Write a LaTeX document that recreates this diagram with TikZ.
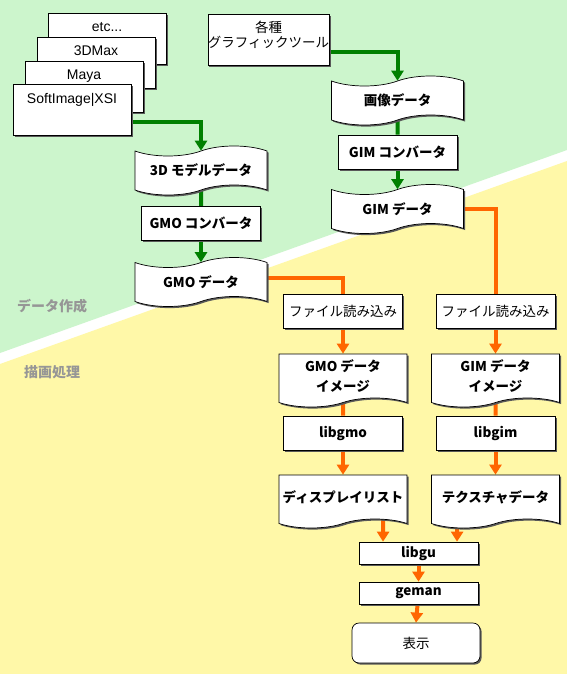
\documentclass[tikz,border=0pt]{standalone}
\usepackage{fontspec}
\setmainfont{Noto Sans CJK JP}
\newfontfamily\arialfont{Liberation Sans}
\usepackage{tikz}
\usetikzlibrary{positioning,arrows.meta,shapes.symbols,shapes.misc,shadows}
\definecolor{greenbg}{RGB}{204,245,204}
\definecolor{yellowbg}{RGB}{255,248,168}
\definecolor{flowgreen}{RGB}{0,128,0}
\definecolor{floworange}{RGB}{255,102,0}
\definecolor{areagray}{RGB}{150,150,150}
\pgfdeclarelayer{bg}
\pgfdeclarelayer{lines}
\pgfsetlayers{bg,lines,main}

\begin{document}
\begin{tikzpicture}[x=1pt, y=-1pt, on grid,
  shade/.style={drop shadow={shadow xshift=1.6pt, shadow yshift=-1.6pt, fill=black!65, opacity=1}},
  app/.style={rectangle, draw=black, fill=white, line width=0.7pt, shade,
              font=\arialfont\fontsize{14}{16}\selectfont, minimum width=118pt,
              inner ysep=0pt, text height=19pt, text depth=32pt},
  proc/.style={rectangle, draw=black, fill=white, line width=0.7pt, shade,
               font=\fontsize{13.5}{15}\selectfont\bfseries, minimum width=119pt,
               minimum height=34pt, inner sep=0pt, align=center},
  tapebox/.style={tape, tape bend top=in and out, tape bend bottom=in and out,
                  tape bend height=10pt, draw=black, fill=white, line width=0.7pt, shade,
                  font=\fontsize{13.5}{15}\selectfont\bfseries, minimum width=132pt,
                  minimum height=49pt, inner sep=0pt, align=center},
  docbox/.style={tape, tape bend top=none, tape bend bottom=in and out,
                 tape bend height=9pt, draw=black, fill=white, line width=0.7pt, shade,
                 font=\fontsize{13.5}{15}\selectfont\bfseries, minimum width=128pt,
                 minimum height=53pt, inner sep=0pt, align=center},
  endbox/.style={rectangle, rounded corners=7pt, draw=black, fill=white, line width=0.7pt,
                 shade, font=\fontsize{13.5}{15}\selectfont, minimum width=128pt,
                 minimum height=40pt},
  area/.style={font=\fontsize{14}{16}\selectfont\bfseries, text=areagray},
  garr/.style={-{Triangle[length=10pt,width=12pt]}, line width=4pt, flowgreen},
  gline/.style={line width=4pt, flowgreen},
  oarr/.style={-{Triangle[length=10pt,width=12pt]}, line width=4pt, floworange},
  oline/.style={line width=4pt, floworange}
]
\useasboundingbox (0,0) rectangle (567,674);

\begin{pgfonlayer}{bg}
\fill[white] (0,0) rectangle (567,674);
\fill[greenbg] (0,0) -- (567,0) -- (567,150) -- (0,353) -- cycle;
\fill[yellowbg] (0,364) -- (567,161) -- (567,674) -- (0,674) -- cycle;
\end{pgfonlayer}

\node[area] (mkdata) at (52,306) {データ作成};
\node[area] (render) at (52,372) {描画処理};

\node[app] (etc)  at (107,38.5) {etc...};
\node[app] (max)  at (96,62.5)  {3DMax};
\node[app] (maya) at (84,86.5)  {Maya};
\node[app] (soft) at (72,110)   {SoftImage|XSI};

\node[proc, font=\fontsize{13.5}{15}\selectfont, minimum height=51pt] (tool) at (268.5,39.5)
  {各種\\グラフィックツール\\[-5pt]};

\node[tapebox] (model3d) at (201,170.5) {3D モデルデータ};
\node[proc, below=53pt of model3d] (gmoconv) {GMO コンバータ};
\node[tapebox, below=58.5pt of gmoconv] (gmodata) {GMO データ};

\node[tapebox] (imgdata) at (397.5,100.5) {画像データ};
\node[proc, below=51.5pt of imgdata] (gimconv) {GIM コンバータ};
\node[tapebox, below=57pt of gimconv] (gimdata) {GIM データ};

\node[proc, font=\fontsize{13.5}{15}\selectfont] (readL) at (343,311) {ファイル読み込み};
\node[docbox, below=65pt of readL] (gmoimg) {GMO データ\\[5pt]イメージ};
\node[proc, below=57pt of gmoimg] (libgmo) {libgmo};
\node[docbox, below=64pt of libgmo] (dlist) {ディスプレイリスト};

\node[proc, font=\fontsize{13.5}{15}\selectfont, right=152.5pt of readL] (readR) {ファイル読み込み};
\node[docbox, below=65pt of readR] (gimimg) {GIM データ\\[5pt]イメージ};
\node[proc, below=57pt of gimimg] (libgim) {libgim};
\node[docbox, below=64pt of libgim] (texdata) {テクスチャデータ};

\node[proc, minimum height=22pt] (libgu) at (418.5,553) {libgu};
\node[proc, minimum height=22pt, below=40pt of libgu] (geman) {geman};
\node[endbox] (show) at (416,643) {表示};

\begin{pgfonlayer}{lines}
\draw[garr] ([yshift=-12pt]soft.center) -| (model3d.north);
\draw[gline] (model3d) -- (gmoconv);
\draw[garr] (gmoconv) -- (gmodata.north);
\draw[garr] ([yshift=-12.5pt]tool.center) -| (imgdata.north);
\draw[gline] (imgdata) -- (gimconv);
\draw[garr] (gimconv) -- (gimdata.north);

\draw[oline] ([yshift=4pt]gmodata.center) -| (readL);
\draw[oline] (gimdata.center) -| (readR);
\draw[oarr] (readL) -- (gmoimg.north);
\draw[oarr] (readR) -- (gimimg.north);
\draw[oline] (gmoimg) -- (libgmo);
\draw[oline] (gimimg) -- (libgim);
\draw[oarr] (libgmo) -- (dlist.north);
\draw[oarr] (libgim) -- (texdata.north);
\draw[oarr] ([xshift=40.5pt]dlist.center) -- ([xshift=-35.5pt]libgu.north);
\draw[oarr] ([xshift=-38pt]texdata.center) -- ([xshift=38.5pt]libgu.north);
\draw[oarr] (libgu) -- (geman.north);
\draw[oarr] (geman) -- (show.north);
\end{pgfonlayer}

\end{tikzpicture}
\end{document}
